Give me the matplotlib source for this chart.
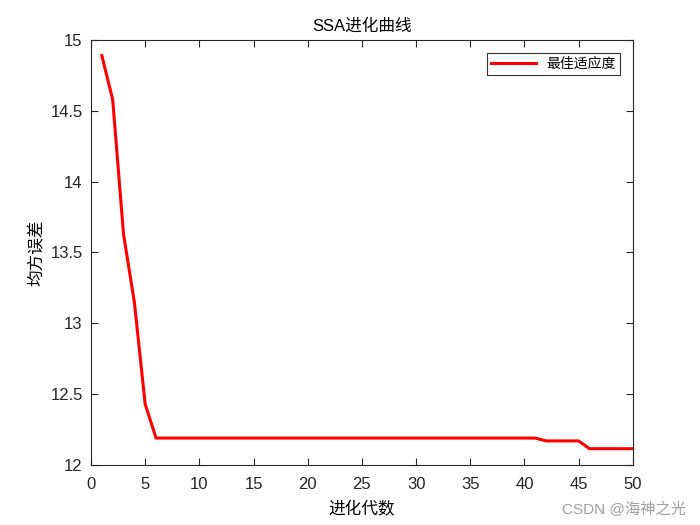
import matplotlib
matplotlib.use("Agg")
import matplotlib.pyplot as plt

generations = list(range(1, 51))
fitness = [14.89, 14.58, 13.63, 13.15, 12.43] + [12.19] * 36 + [12.17] * 4 + [12.115] * 5

xticks = [0, 5, 10, 15, 20, 25, 30, 35, 40, 45, 50]
yticks = [12, 12.5, 13, 13.5, 14, 14.5, 15]
ytick_labels = ["12", "12.5", "13", "13.5", "14", "14.5", "15"]

plt.rcParams['font.family'] = ['Liberation Sans', 'Noto Sans CJK SC', 'DejaVu Sans']

fig = plt.figure(figsize=(7, 5.25), dpi=100)
ax = fig.add_axes([0.13, 0.1143, 0.774, 0.8095])
ax.plot(generations, fitness, color='#ff0000', lw=2.2, label='最佳适应度')
ax.set_xlim(0, 50)
ax.set_ylim(12, 15)
ax.set_xticks(xticks)
ax.set_yticks(yticks)
ax.set_yticklabels(ytick_labels)
ax.tick_params(direction='in', top=True, right=True, labelsize=12, length=5, width=0.8, colors='#262626')
ax.tick_params(axis='x', pad=9)
ax.tick_params(axis='y', pad=6)
for s in ax.spines.values():
    s.set_color('#262626')
    s.set_linewidth(0.8)
ax.set_title('SSA进化曲线', fontsize=12, color='black', pad=7)
ax.set_xlabel('进化代数', fontsize=12, family=['Noto Sans CJK SC'], labelpad=6)
ax.set_ylabel('均方误差', fontsize=12, family=['Noto Sans CJK SC'], labelpad=4)
leg = ax.legend(loc='upper right', frameon=True, fancybox=False,
                edgecolor='black', handlelength=3.2, borderaxespad=0.9,
                borderpad=0.3, prop={'family': ['Noto Sans CJK SC'], 'size': 10})
leg.get_frame().set_linewidth(0.8)
fig.text(0.98, 0.015, 'CSDN @海神之光', ha='right', va='bottom', fontsize=11, color='#a0a0a0')
fig.savefig('out.png', dpi=100)
